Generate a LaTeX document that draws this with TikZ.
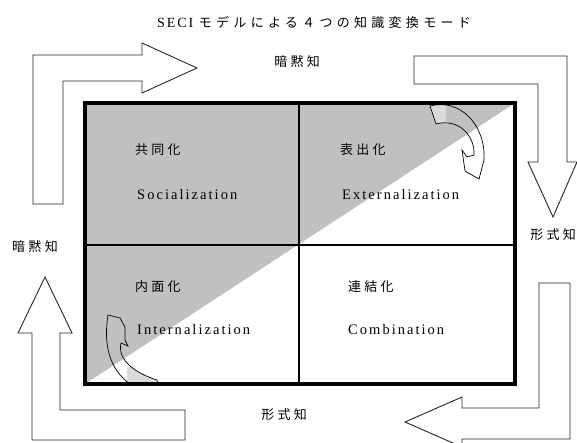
\documentclass[tikz,border=0pt]{standalone}
\usepackage{fontspec}
\setmainfont{Liberation Serif}
\newfontfamily\jpfont[LetterSpace=25]{Noto Sans CJK JP}
\newfontfamily\jptitle[LetterSpace=33]{Noto Sans CJK JP}
\newfontfamily\enfont[LetterSpace=14]{Liberation Serif}
\definecolor{cellgray}{HTML}{C0C0C0}
\definecolor{tailgray}{HTML}{DADADA}
\tikzset{
  blockarrow/.style={draw=black!85, line width=0.9pt, fill=white, line join=miter},
  curvearrow/.style={draw=black, line width=0.7pt},
  jlabel/.style={inner sep=0pt, font=\jpfont\fontsize{13}{13}\selectfont},
  elabel/.style={inner sep=0pt, font=\enfont\fontsize{14.5}{14.5}\selectfont},
  celljp/.style={jlabel, anchor=west},
  cellen/.style={elabel, anchor=west}
}
\begin{document}
\begin{tikzpicture}[x=1pt,y=-1pt]
\useasboundingbox (0,0) rectangle (577,443);
\fill[white] (0,0) rectangle (577,443);

% outer block arrows
\draw[blockarrow] (33,204) -- (33,55) -- (142,55) -- (142,43) -- (197,68) -- (142,93) -- (142,81) -- (63,81) -- (63,204) -- cycle;
\draw[blockarrow] (414,56) -- (567,56) -- (567,162) -- (577,162) -- (553,217) -- (528,162) -- (538,162) -- (538,84) -- (414,84) -- cycle;
\draw[blockarrow] (539,283) -- (570,283) -- (570,439) -- (462,439) -- (462,447) -- (405,422) -- (462,397) -- (462,408) -- (539,408) -- cycle;
\draw[blockarrow] (32,440) -- (185,440) -- (185,410) -- (60,410) -- (60,333) -- (72,333) -- (45,277) -- (18,333) -- (32,333) -- cycle;

% gray diagonal half
\fill[cellgray] (85,384) -- (85,103) -- (515,103) -- cycle;

% curved arrows
\def\trarrow{(430,106) .. controls (460,98) and (486,125) .. (484,160) -- (479,179) -- (465,171) -- (462,150) -- (467,157) -- (474,155) .. controls (475,135) and (458,118) .. (436,124) -- cycle}
\def\blarrow{(130,384) .. controls (110,370) and (103,345) .. (108,315) -- (120,318) -- (125,327) -- (125,340) -- (128,346) -- (121,343) .. controls (117,360) and (135,373) .. (157,380) -- (158,384) -- cycle}
\begin{scope}
  \clip (420,100) rectangle (446,130);
  \fill[tailgray] \trarrow;
\end{scope}
\draw[curvearrow] \trarrow;
\begin{scope}
  \clip (127,367) rectangle (165,390);
  \fill[tailgray] \blarrow;
\end{scope}
\draw[curvearrow] \blarrow;

% grid
\draw[line width=2pt] (299,103) -- (299,384);
\draw[line width=2pt] (85,245) -- (515,245);
\draw[line width=4pt] (85,103) rectangle (515,384);

% texts
\node[inner sep=0pt, anchor=west] (title) at (157,23) {\enfont\fontsize{14}{14}\selectfont SECI\ \jptitle\fontsize{13}{13}\selectfont モデルによる４つの知識変換モード};
\node[jlabel] (tacitTop) at (297,62) {暗黙知};
\node[jlabel] (tacitLeft) at (35,247) {暗黙知};
\node[jlabel] (explRight) at (553,235) {形式知};
\node[jlabel] (explBottom) at (284,415) {形式知};

\node[celljp] (soc) at (135,150) {共同化};
\node[cellen] (socE) at (137,195) {Socialization};
\node[celljp] (ext) at (340,150) {表出化};
\node[cellen] (extE) at (342,195) {Externalization};
\node[celljp] (int) at (135,287) {内面化};
\node[cellen] (intE) at (137,330) {Internalization};
\node[celljp] (com) at (348,287) {連結化};
\node[cellen] (comE) at (348,330) {Combination};
\end{tikzpicture}
\end{document}
